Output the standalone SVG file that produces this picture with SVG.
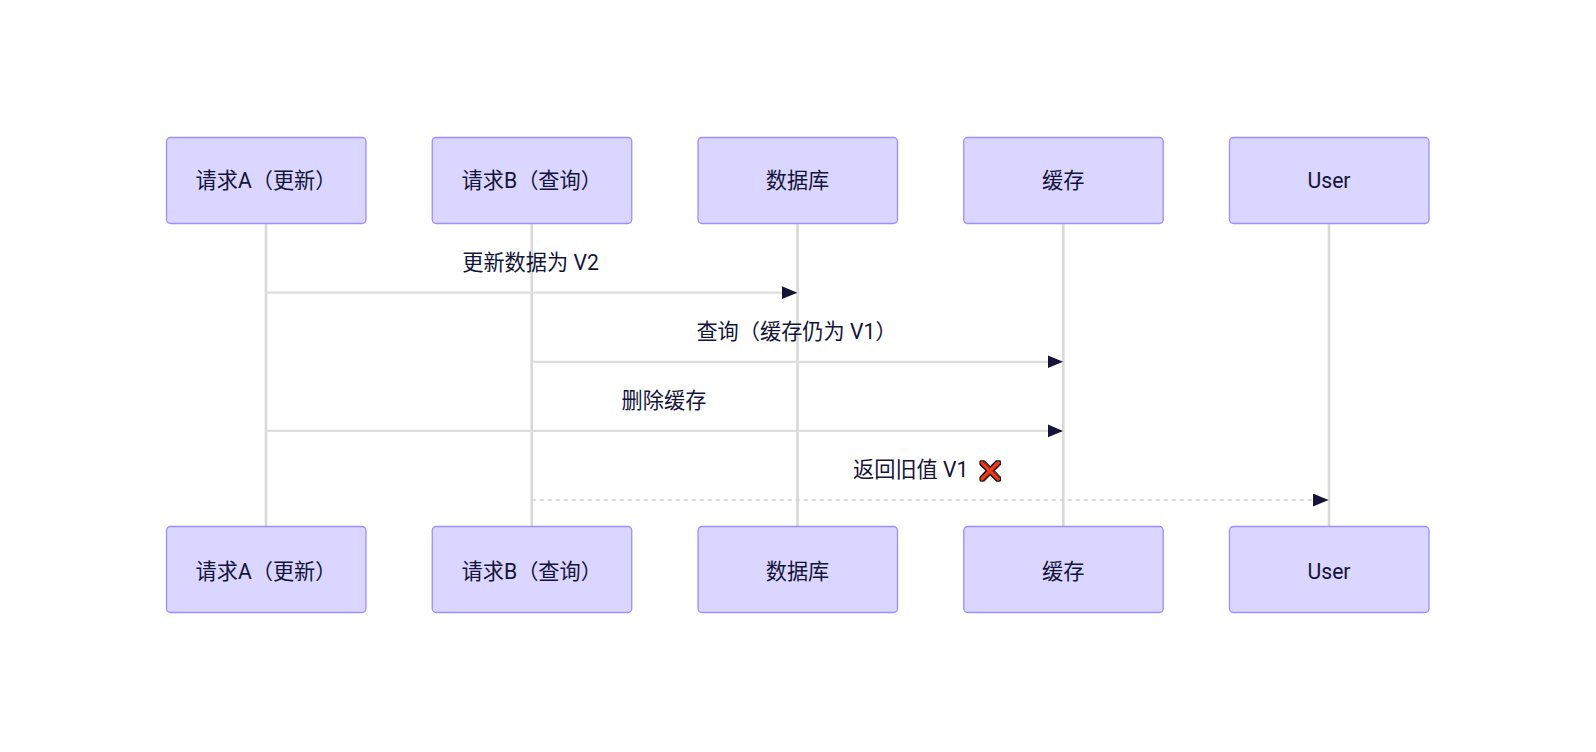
<svg xmlns="http://www.w3.org/2000/svg" width="1596" height="752" viewBox="0 0 1596 752">
<style>
.actor{fill:#dad6ff;stroke:#9c8fff;stroke-width:1.3}
.life{stroke:#d9d9d9;stroke-width:2.6;fill:none}
.msg{stroke:#dedede;stroke-width:2.2;fill:none}
.dash{stroke:#d4d4d4;stroke-dasharray:4 4;stroke-width:1.6}
text{font-family:Roboto,"Noto Sans CJK SC",sans-serif;font-size:21.2px;fill:#14143a;text-anchor:middle}
text.x{font-size:18px;text-anchor:start;filter:url(#xmark)}
</style>
<defs>
<marker id="arrow" markerUnits="userSpaceOnUse" markerWidth="16" markerHeight="14" refX="15.5" refY="6.5" orient="auto"><path d="M0 0L15.5 6.5L0 13Z" fill="#14143a"/></marker>
<filter id="xmark" x="-20%" y="-20%" width="140%" height="140%" color-interpolation-filters="sRGB">
<feMorphology in="SourceAlpha" operator="dilate" radius="1" result="thick"/>
<feFlood flood-color="#000"/><feComposite in2="thick" operator="in" result="edge"/>
<feFlood flood-color="#f03a17"/><feComposite in2="SourceAlpha" operator="in" result="body"/>
<feMerge><feMergeNode in="edge"/><feMergeNode in="body"/></feMerge>
</filter>
</defs>
<rect width="1596" height="752" fill="#fff"/>
<g id="connectors">
<path class="life" d="M266 223V526"/>
<path class="life" d="M531.75 223V526"/>
<path class="life" d="M797.5 223V526"/>
<path class="life" d="M1063.25 223V526"/>
<path class="life" d="M1329 223V526"/>
<path class="msg" d="M266 292.7H797.3" marker-end="url(#arrow)"/>
<path class="msg" d="M531.75 361.8H1063" marker-end="url(#arrow)"/>
<path class="msg" d="M266 430.9H1063" marker-end="url(#arrow)"/>
<path class="msg dash" d="M531.75 500H1328.5" marker-end="url(#arrow)"/>
<text x="530.5" y="270">更新数据为 V2</text>
<text x="796.5" y="339">查询（缓存仍为 V1）</text>
<text x="664" y="408">删除缓存</text>
<text x="853" y="477" style="text-anchor:start">返回旧值 V1</text>
<text class="x" x="979" y="477">❌</text>
</g>
<g id="a-top"><rect class="actor" x="166.5" y="137.5" width="199.5" height="86" rx="3.9"/><text x="266" y="188">请求A（更新）</text></g>
<g id="b-top"><rect class="actor" x="432.25" y="137.5" width="199.5" height="86" rx="3.9"/><text x="531.75" y="188">请求B（查询）</text></g>
<g id="db-top"><rect class="actor" x="698" y="137.5" width="199.5" height="86" rx="3.9"/><text x="797.5" y="188">数据库</text></g>
<g id="cache-top"><rect class="actor" x="963.75" y="137.5" width="199.5" height="86" rx="3.9"/><text x="1063.25" y="188">缓存</text></g>
<g id="user-top"><rect class="actor" x="1229.5" y="137.5" width="199.5" height="86" rx="3.9"/><text x="1329" y="188">User</text></g>
<g id="a-bottom"><rect class="actor" x="166.5" y="526.5" width="199.5" height="86" rx="3.9"/><text x="266" y="578.5">请求A（更新）</text></g>
<g id="b-bottom"><rect class="actor" x="432.25" y="526.5" width="199.5" height="86" rx="3.9"/><text x="531.75" y="578.5">请求B（查询）</text></g>
<g id="db-bottom"><rect class="actor" x="698" y="526.5" width="199.5" height="86" rx="3.9"/><text x="797.5" y="578.5">数据库</text></g>
<g id="cache-bottom"><rect class="actor" x="963.75" y="526.5" width="199.5" height="86" rx="3.9"/><text x="1063.25" y="578.5">缓存</text></g>
<g id="user-bottom"><rect class="actor" x="1229.5" y="526.5" width="199.5" height="86" rx="3.9"/><text x="1329" y="578.5">User</text></g>
</svg>
